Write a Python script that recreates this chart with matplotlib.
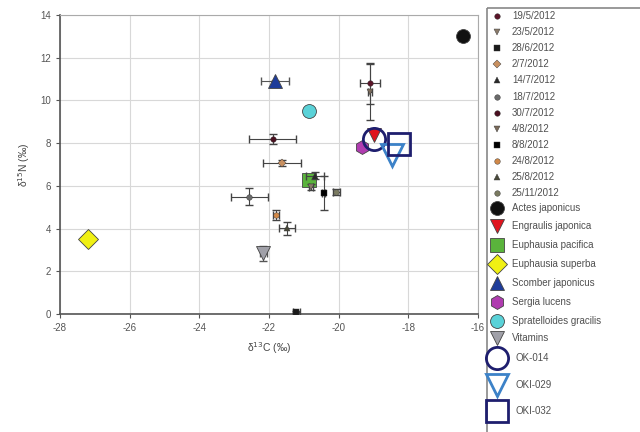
import numpy as np
import matplotlib
matplotlib.use("Agg")
import matplotlib.pyplot as plt
from matplotlib.patches import Rectangle

plt.rcParams['font.family'] = ['Liberation Sans', 'DejaVu Sans']
plt.rcParams['axes.unicode_minus'] = False

# --- sampling dates (small points with error bars) ---
dates = ['19/5/2012', '23/5/2012', '28/6/2012', '2/7/2012', '14/7/2012', '18/7/2012',
         '30/7/2012', '4/8/2012', '8/8/2012', '24/8/2012', '25/8/2012', '25/11/2012']
date_markers = ['o', 'v', 's', 'D', '^', 'o', 'o', 'v', 's', 'o', '^', 'o']
date_colors = ['#5a1428', '#8a7a6a', '#1a1a1a', '#c89060', '#2a2a2a', '#6a6a6a',
               '#4a1020', '#7a6a5a', '#000000', '#d08848', '#4a4a3a', '#7a7a60']
date_c = [-19.1, -20.8, -21.22, -21.63, -20.67, -22.56, -21.89, -19.1, -20.43, -21.8, -21.47, -20.07]
date_n = [10.8, 5.95, 0.08, 7.06, 6.48, 5.49, 8.18, 10.4, 5.65, 4.63, 4.01, 5.7]
date_cerr = [0.28, 0.05, 0.1, 0.55, 0.26, 0.54, 0.67, 0.05, 0.05, 0.08, 0.23, 0.1]
date_nerr = [0.95, 0.15, 0.05, 0.15, 0.15, 0.4, 0.23, 1.3, 0.8, 0.25, 0.3, 0.15]

# --- species / reference points ---
species = ['Actes japonicus', 'Engraulis japonica', 'Euphausia pacifica', 'Euphausia superba',
           'Scomber japonicus', 'Sergia lucens', 'Spratelloides gracilis', 'Vitamins']
sp_markers = ['o', 'v', 's', 'D', '^', 'h', 'o', 'v']
sp_colors = ['#111111', '#e0141e', '#5ab43c', '#f0f014', '#1e3c9a', '#b03cb0', '#5ad2d8', '#a0a0a8']
sp_c = [-16.43, -19.0, -20.86, -27.19, -21.82, -19.33, -20.84, -22.16]
sp_n = [13.03, 8.38, 6.27, 3.53, 10.9, 7.83, 9.5, 2.84]
sp_cerr = [0, 0, 0, 0, 0.4, 0, 0, 0.1]
sp_nerr = [0, 0, 0, 0, 0, 0, 0, 0.35]

# --- samples (open symbols) ---
samples = ['OK-014', 'OKI-029', 'OKI-032']
smp_markers = ['o', 'v', 's']
smp_colors = ['#1e1e6e', '#3c82c8', '#1e1e6e']
smp_c = [-19.0, -18.47, -18.28]
smp_n = [8.2, 7.44, 7.96]

fig = plt.figure(figsize=(6.4, 4.32), dpi=100)
ax = fig.add_axes([60 / 640, 1 - 314 / 432, 418 / 640, 299 / 432])

for i in range(len(species)):
    if sp_cerr[i] or sp_nerr[i]:
        ax.errorbar(sp_c[i], sp_n[i], xerr=sp_cerr[i], yerr=sp_nerr[i], fmt='none',
                    ecolor='#555555', elinewidth=0.8, capsize=3, zorder=3)
    ax.plot(sp_c[i], sp_n[i], marker=sp_markers[i], color=sp_colors[i], ms=10,
            mec='#444444', mew=0.6, ls='none', zorder=4)

for i in range(len(dates)):
    ax.errorbar(date_c[i], date_n[i], xerr=date_cerr[i], yerr=date_nerr[i], fmt='none',
                ecolor='#444444', elinewidth=0.8, capsize=3, capthick=1, zorder=5)
    ax.plot(date_c[i], date_n[i], marker=date_markers[i], color=date_colors[i], ms=4,
            mec='#333333', mew=0.3, ls='none', zorder=6)

for i in range(len(samples)):
    ax.plot(smp_c[i], smp_n[i], marker=smp_markers[i], mfc='none', mec=smp_colors[i],
            ms=16, mew=2, ls='none', zorder=7)

ax.set_xlim(-28, -16)
ax.set_ylim(0, 14)
ax.set_xticks(np.arange(-28, -15, 2))
ax.set_yticks(np.arange(0, 15, 2))
ax.grid(color='#d8d8d8', lw=0.8)
ax.set_axisbelow(True)
ax.tick_params(labelsize=7, colors='#555555', length=3, width=0.8)
for s in ['top', 'right']:
    ax.spines[s].set_color('#aaaaaa')
for s in ['left', 'bottom']:
    ax.spines[s].set_color('#555555')
    ax.spines[s].set_linewidth(1.2)
ax.set_xlabel('δ$^{13}$C (‰)', fontsize=7.5, color='#444444', labelpad=5)
ax.set_ylabel('δ$^{15}$N (‰)', fontsize=7.5, color='#444444', labelpad=6)

# --- legend, drawn in its own pixel-based axes ---
lax = fig.add_axes([0, 0, 1, 1], facecolor='none')
lax.set_xlim(0, 640)
lax.set_ylim(432, 0)
lax.axis('off')
lax.add_patch(Rectangle((487, 8), 170, 440, fill=False, ec='#888888', lw=1.2))

row_y = list(16 + 16.1 * np.arange(12)) + [208, 226, 245, 264, 283, 302, 321, 338, 358, 385, 411]
k = 0
for i in range(len(dates)):
    lax.plot(497, row_y[k], marker=date_markers[i], color=date_colors[i], ms=4,
             mec='#333333', mew=0.3)
    lax.text(512, row_y[k], dates[i], fontsize=7, color='#505050', va='center')
    k += 1
for i in range(len(species)):
    lax.plot(497, row_y[k], marker=sp_markers[i], color=sp_colors[i], ms=10,
             mec='#444444', mew=0.6)
    lax.text(512, row_y[k], species[i], fontsize=7, color='#505050', va='center')
    k += 1
for i in range(len(samples)):
    lax.plot(497, row_y[k], marker=smp_markers[i], mfc='none', mec=smp_colors[i],
             ms=16, mew=2)
    lax.text(515, row_y[k], samples[i], fontsize=7, color='#505050', va='center')
    k += 1

fig.savefig('out.png', dpi=100)
